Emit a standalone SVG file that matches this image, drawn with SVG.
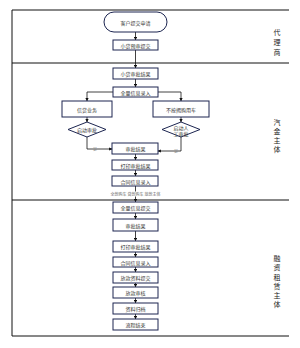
<svg xmlns="http://www.w3.org/2000/svg" width="300" height="348" viewBox="0 0 300 348">
<defs>
<marker id="ah" viewBox="0 0 6 6" refX="5.5" refY="3" markerWidth="4" markerHeight="4" orient="auto"><path d="M0,0 L6,3 L0,6 z" fill="#111"/></marker>
<style>
.lane{stroke:#111;stroke-width:1;fill:none}
.box{fill:#fff;stroke:#1c2550;stroke-width:1}
.t{font-family:"Noto Sans CJK SC","Noto Sans",sans-serif;font-size:5px;fill:#333;text-anchor:middle;dominant-baseline:central}
.lt{font-family:"Noto Sans CJK SC","Noto Sans",sans-serif;font-size:7px;fill:#222;text-anchor:middle;dominant-baseline:central}
.c{stroke:#111;stroke-width:0.8;fill:none;marker-end:url(#ah)}
.s{font-family:"Noto Sans CJK SC","Noto Sans",sans-serif;font-size:4px;fill:#666;text-anchor:middle;dominant-baseline:central}
</style>
</defs>
<rect width="300" height="348" fill="#fff"/>
<g id="lanes">
<path class="lane" d="M289,10 H12 V336 H289"/>
<path class="lane" d="M12,63 H289 M12,200 H289"/>
<text class="lt" x="277" y="32">代</text><text class="lt" x="277" y="42">理</text><text class="lt" x="277" y="52">商</text>
<text class="lt" x="277" y="122">汽</text><text class="lt" x="277" y="131">金</text><text class="lt" x="277" y="140">主</text><text class="lt" x="277" y="149">体</text>
<text class="lt" x="277" y="258">融</text><text class="lt" x="277" y="267">资</text><text class="lt" x="277" y="277">租</text><text class="lt" x="277" y="286">赁</text><text class="lt" x="277" y="295">主</text><text class="lt" x="277" y="304">体</text>
</g>
<g id="connectors">
<path class="c" d="M135.5,32 V40"/>
<path class="c" d="M135.5,50 V68"/>
<path class="c" d="M135.5,79 V87"/>
<path class="c" d="M135.5,92 H87 V101"/>
<path class="c" d="M135.5,92 H181 V101"/>
<path class="c" d="M87,117 V122"/>
<path class="c" d="M181,117 V122"/>
<path class="c" d="M87,137 V149 H112"/>
<path class="c" d="M181,137 V151 H158"/>
<path class="c" d="M135.5,154 V160"/>
<path class="c" d="M135.5,170 V176"/>
<path class="c" d="M135.5,186 V202"/>
<path class="c" d="M135.5,213 V219"/>
<path class="c" d="M135.5,231 V241"/>
<path class="c" d="M135.5,252 V257"/>
<path class="c" d="M135.5,267 V272"/>
<path class="c" d="M135.5,283 V287"/>
<path class="c" d="M135.5,298 V303"/>
<path class="c" d="M135.5,314 V319"/>
<text class="s" x="95" y="149" style="fill:#888">是</text>
<text class="s" x="176" y="151" style="fill:#888">是</text>
<rect x="112" y="191.5" width="46" height="5" fill="#fff"/>
<text class="s" x="135.5" y="194">全款购车 贷款购车 放款主体</text>
</g>
<g id="n1"><rect class="box" x="104" y="12" width="63" height="20" rx="10"/><text class="t" x="135.5" y="22">客户提交申请</text></g>
<g id="n2"><rect class="box" x="113" y="40" width="45" height="10"/><text class="t" x="135.5" y="45">小贷预审提交</text></g>
<g id="n3"><rect class="box" x="113" y="68" width="45" height="11"/><text class="t" x="135.5" y="73.5">小贷审批结果</text></g>
<g id="n4"><rect class="box" x="113" y="87" width="45" height="10"/><text class="t" x="135.5" y="92">全量信息录入</text></g>
<g id="n5"><rect class="box" x="62" y="101" width="50" height="16"/><text class="t" x="87" y="109">信贷业务</text></g>
<g id="n6"><rect class="box" x="153" y="101" width="56" height="16"/><text class="t" x="181" y="109">不按揭购用车</text></g>
<g id="n7"><polygon class="box" points="87,122 106,129.5 87,137 68,129.5"/><text class="t" x="87" y="129.5">启动审批</text></g>
<g id="n8"><polygon class="box" points="181,122 200,129.5 181,137 162,129.5"/><text class="t" x="181" y="127">启动人</text><text class="t" x="181" y="133">工审批</text></g>
<g id="n9"><rect class="box" x="112" y="143" width="46" height="11"/><text class="t" x="135.5" y="148.5">审批结果</text></g>
<g id="n10"><rect class="box" x="112" y="160" width="46" height="10"/><text class="t" x="135.5" y="165">打印审批结果</text></g>
<g id="n11"><rect class="box" x="112" y="176" width="46" height="10"/><text class="t" x="135.5" y="181">合同信息录入</text></g>
<g id="n12"><rect class="box" x="113" y="202" width="45" height="11"/><text class="t" x="135.5" y="207.5">全量信息提交</text></g>
<g id="n13"><rect class="box" x="113" y="219" width="45" height="12"/><text class="t" x="135.5" y="225">审批结果</text></g>
<g id="n14"><rect class="box" x="113" y="241" width="45" height="11"/><text class="t" x="135.5" y="246.5">打印审批结果</text></g>
<g id="n15"><rect class="box" x="113" y="257" width="45" height="10"/><text class="t" x="135.5" y="262">合同信息录入</text></g>
<g id="n16"><rect class="box" x="113" y="272" width="45" height="11"/><text class="t" x="135.5" y="277.5">放款资料提交</text></g>
<g id="n17"><rect class="box" x="113" y="287" width="45" height="11"/><text class="t" x="135.5" y="292.5">放款审核</text></g>
<g id="n18"><rect class="box" x="113" y="303" width="45" height="11"/><text class="t" x="135.5" y="308.5">资料归档</text></g>
<g id="n19"><rect class="box" x="113" y="319" width="45" height="11"/><text class="t" x="135.5" y="324.5">流程结束</text></g>
</svg>
